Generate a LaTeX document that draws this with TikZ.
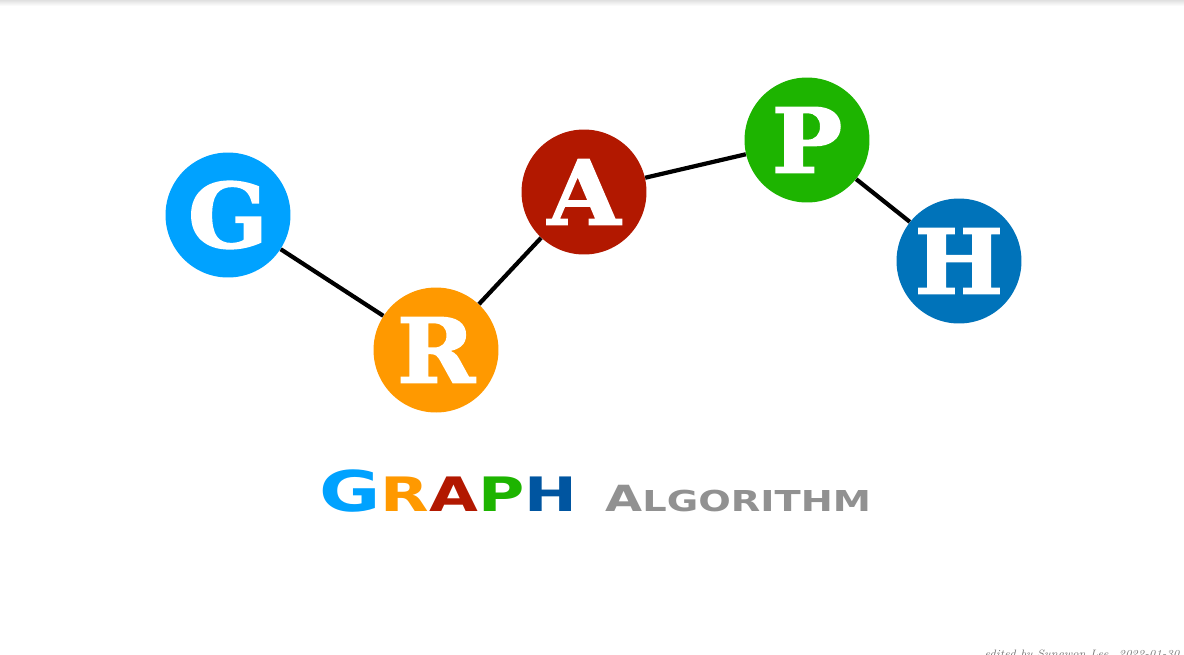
\documentclass[tikz,border=0pt]{standalone}
\usepackage{fontspec}
\setmainfont{Latin Modern Roman}
\newfontfamily\slabfont{DejaVu Serif}[BoldFont={DejaVu Serif Bold},BoldFeatures={FakeBold=1.6,FakeStretch=1.05}]
\newfontfamily\graphfont{DejaVu Sans Bold}[FakeStretch=1.33]
\newfontfamily\algofont{DejaVu Sans Bold}[FakeStretch=1.33]
\definecolor{cG}{RGB}{0,162,255}
\definecolor{cR}{RGB}{255,153,0}
\definecolor{cA}{RGB}{178,24,0}
\definecolor{cP}{RGB}{29,180,0}
\definecolor{cH}{RGB}{0,115,186}
\definecolor{cT}{RGB}{0,85,160}
\definecolor{cGrey}{RGB}{145,145,145}
\tikzset{
  ball/.style={circle, minimum size=2.5cm, inner sep=0pt, text=white,
    font=\slabfont\bfseries\fontsize{51}{51}\selectfont},
  edge/.style={line width=2.4pt, black},
}
\begin{document}
\begin{tikzpicture}[x=0.02cm,y=-0.02cm]
\useasboundingbox (0,0) rectangle (1184,654);
\clip (0,0) rectangle (1184,654);
\fill[white] (0,0) rectangle (1184,654);
\shade[top color=black!12, bottom color=white] (0,0) rectangle (1184,6);
% nodes
\node[ball, fill=cG] (g) at (228,215) {G};
\node[ball, fill=cR] (r) at (436,350) {R};
\node[ball, fill=cA] (a) at (584,192) {A};
\node[ball, fill=cP] (p) at (807,140) {P};
\node[ball, fill=cH] (h) at (959,261) {H};
\draw[edge] (g) -- (r);
\draw[edge] (r) -- (a);
\draw[edge] (a) -- (p);
\draw[edge] (p) -- (h);
% title
\node[anchor=base west, inner sep=0pt, font=\graphfont\fontsize{27}{27}\selectfont] (t1) at (319,511)
  {{\color{cG}\fontsize{32}{32}\selectfont G}{\color{cR}R}{\color{cA}A}{\color{cP}P}{\color{cT}H}};
\node[anchor=base west, inner sep=0pt, text=cGrey, font=\algofont\fontsize{16.4}{16.4}\selectfont] (t2) at (605,511)
  {{\fontsize{20.5}{20.5}\selectfont A}LGORITHM};
% footer
\node[anchor=base east, inner sep=0pt, text=black!55,
  font=\itshape\fontsize{6.1}{6.1}\selectfont] (f) at (1180,657) {edited by Sungwon Lee. 2022-01-30};
\end{tikzpicture}
\end{document}
